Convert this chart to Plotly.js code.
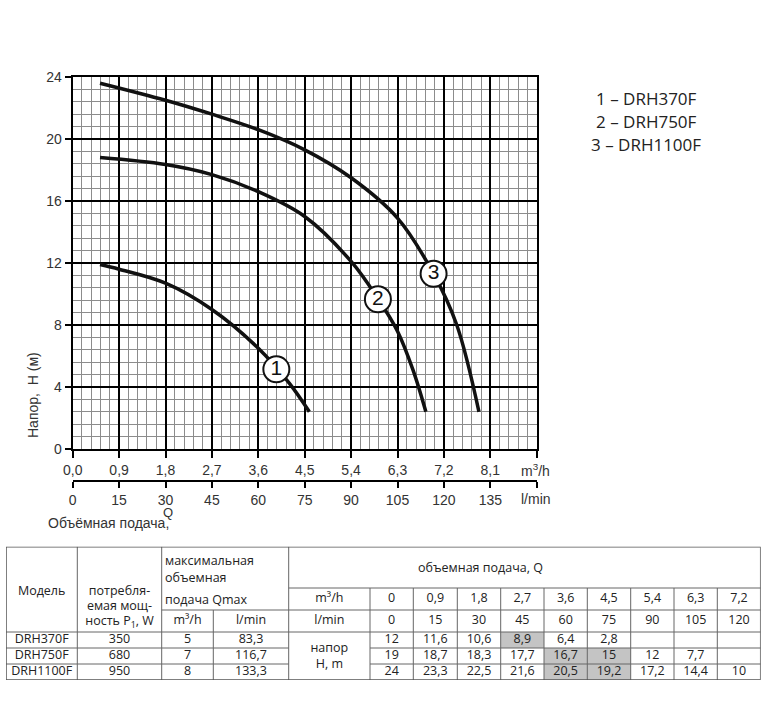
<!DOCTYPE html>
<html>
<head>
<meta charset="utf-8">
<script src="https://cdn.plot.ly/plotly-3.0.1.min.js"></script>
<style>html,body{margin:0;padding:0;background:#fff;}#chart{width:766px;height:702px;}</style>
</head>
<body>
<div id="chart"></div>
<script>
// ---------- data ----------
const curve1X = [0.53, 0.9, 1.8, 2.7, 3.6, 4.2, 4.59];
const curve1Y = [11.9, 11.6, 10.7, 9.0, 6.5, 4.25, 2.4];
const curve2X = [0.53, 1.8, 2.7, 3.6, 4.5, 5.4, 5.92, 6.3, 6.6, 6.85];
const curve2Y = [18.8, 18.35, 17.7, 16.6, 15.0, 12.1, 9.7, 7.6, 5.1, 2.4];
const curve3X = [0.53, 1.8, 2.7, 3.6, 4.5, 5.4, 6.3, 7.0, 7.45, 7.88];
const curve3Y = [23.6, 22.5, 21.6, 20.6, 19.3, 17.5, 14.9, 11.3, 8.0, 2.4];
const labelX = [3.95, 5.92, 7.0];
const labelY = [5.14, 9.66, 11.3];
const labelText = ['1', '2', '3'];

const m3hTicks = [0, 0.9, 1.8, 2.7, 3.6, 4.5, 5.4, 6.3, 7.2, 8.1];
const lpmTicks = [0, 15, 30, 45, 60, 75, 90, 105, 120, 135];
const headTicks = [0, 4, 8, 12, 16, 20, 24];
const legendLines = ['1 – DRH370F', '2 – DRH750F', '3 – DRH1100F'];

const models = ['DRH370F', 'DRH750F', 'DRH1100F'];
const power = [350, 680, 950];
const qmaxM3h = [5, 7, 8];
const qmaxLpm = [83.3, 116.7, 133.3];
const flowM3h = [0, 0.9, 1.8, 2.7, 3.6, 4.5, 5.4, 6.3, 7.2];
const flowLpm = [0, 15, 30, 45, 60, 75, 90, 105, 120];
const head370 = [12, 11.6, 10.6, 8.9, 6.4, 2.8, null, null, null];
const head750 = [19, 18.7, 18.3, 17.7, 16.7, 15, 12, 7.7, null];
const head1100 = [24, 23.3, 22.5, 21.6, 20.5, 19.2, 17.2, 14.4, 10];
const highlight370 = [3];
const highlight750 = [4, 5];
const highlight1100 = [4, 5];

// ---------- layout helpers ----------
const W = 766, H = 702;
const fx = p => p / W;
const fy = p => 1 - p / H;
const fmt = v => (v === null ? '' : String(v).replace('.', ','));
const fmt1 = v => v.toFixed(1).replace('.', ',');
const axisFont = {family: 'Liberation Sans, Arial, sans-serif', size: 14, color: '#333'};
const tableFont = {family: 'Open Sans, Noto Sans, sans-serif', size: 12.5, color: '#222'};

// table geometry (pixel units of the table axes)
const colX = [6, 77.3, 161.7, 213.3, 288.7, 370, 413.3, 457.3, 500.7, 544, 587.3, 630.7, 674, 717.3, 760.7];
const rowY = [546.7, 588, 610, 632, 648, 664, 680];
const cmid = k => (colX[k] + colX[k + 1]) / 2;
const rmid = k => (rowY[k] + rowY[k + 1]) / 2;

// ---------- traces ----------
const curveLine = {color: '#111', width: 3.5, shape: 'spline', smoothing: 1};
const traces = [
  {x: curve1X, y: curve1Y, mode: 'lines', line: curveLine, name: models[0], hoverinfo: 'skip'},
  {x: curve2X, y: curve2Y, mode: 'lines', line: curveLine, name: models[1], hoverinfo: 'skip'},
  {x: curve3X, y: curve3Y, mode: 'lines', line: curveLine, name: models[2], hoverinfo: 'skip'},
  {x: labelX, y: labelY, text: labelText, mode: 'markers+text', textposition: 'middle center',
   marker: {size: 26, color: '#fff', line: {color: '#111', width: 2}},
   textfont: {family: 'Liberation Sans, Arial, sans-serif', size: 21, color: '#111'}, hoverinfo: 'skip'},
  {x: lpmTicks, y: lpmTicks.map(() => null), xaxis: 'x2', yaxis: 'y', mode: 'markers', hoverinfo: 'skip'}
];

// table text
const tX = [], tY = [], tT = [];
const lX = [], lY = [], lT = [];
function put(x, y, t) { if (t !== '') { tX.push(x); tY.push(y); tT.push(t); } }
function putL(x, y, t) { lX.push(x); lY.push(y); lT.push(t); }
put(cmid(0), 592, 'Модель');
put(cmid(1), 592, 'потребля-');
put(cmid(1), 607, 'емая мощ-');
put(cmid(1), 622, 'ность P<sub>1</sub>, W');
putL(165, 561.5, 'максимальная');
putL(165, 579, 'объемная');
putL(165, 601, 'подача Qmax');
put(cmid(2), rmid(2), 'm³/h');
put(cmid(3), rmid(2), 'l/min');
putL(418, 569, 'объемная подача, Q');
put(cmid(4), rmid(1), 'm³/h');
put(cmid(4), rmid(2), 'l/min');
flowM3h.forEach((v, j) => put(cmid(5 + j), rmid(1), fmt(v)));
flowLpm.forEach((v, j) => put(cmid(5 + j), rmid(2), fmt(v)));
const heads = [head370, head750, head1100];
const highs = [highlight370, highlight750, highlight1100];
models.forEach((m, i) => {
  const y = rmid(3 + i);
  put(cmid(0), y, m);
  put(cmid(1), y, String(power[i]));
  put(cmid(2), y, String(qmaxM3h[i]));
  put(cmid(3), y, fmt(qmaxLpm[i]));
  heads[i].forEach((v, j) => put(cmid(5 + j), y, fmt(v)));
});
put(cmid(4), 649, 'напор');
put(cmid(4), 665, 'H, m');
traces.push({x: tX, y: tY, text: tT, mode: 'text', textposition: 'middle center', textfont: tableFont,
             xaxis: 'x3', yaxis: 'y3', hoverinfo: 'skip', cliponaxis: false});
traces.push({x: lX, y: lY, text: lT, mode: 'text', textposition: 'middle right', textfont: tableFont,
             xaxis: 'x3', yaxis: 'y3', hoverinfo: 'skip', cliponaxis: false});

// table shapes
const shapes = [];
const tl = {color: '#666', width: 1};
heads.forEach((row, i) => highs[i].forEach(j => shapes.push({
  type: 'rect', xref: 'x3', yref: 'y3', x0: colX[5 + j], x1: colX[6 + j], y0: rowY[3 + i], y1: rowY[4 + i],
  fillcolor: '#c4c4c4', line: {width: 0}, layer: 'below'})));
function ln(x0, y0, x1, y1) { shapes.push({type: 'line', xref: 'x3', yref: 'y3', x0, y0, x1, y1, line: tl}); }
ln(colX[1], rowY[0], colX[1], rowY[6]);
ln(colX[2], rowY[0], colX[2], rowY[6]);
ln(colX[3], rowY[2], colX[3], rowY[6]);
ln(colX[4], rowY[0], colX[4], rowY[6]);
for (let k = 5; k < 14; k++) ln(colX[k], rowY[1], colX[k], rowY[6]);
ln(colX[4], rowY[1], colX[14], rowY[1]);
ln(colX[2], rowY[2], colX[14], rowY[2]);
ln(colX[0], rowY[3], colX[14], rowY[3]);
[4, 5].forEach(r => { ln(colX[0], rowY[r], colX[4], rowY[r]); ln(colX[5], rowY[r], colX[14], rowY[r]); });
shapes.push({type: 'rect', xref: 'x3', yref: 'y3', x0: colX[0], x1: colX[14], y0: rowY[0], y1: rowY[6],
             line: {color: '#555', width: 1.5}});

// annotations
const annotations = [];
legendLines.forEach((t, i) => annotations.push({
  xref: 'paper', yref: 'paper', x: fx(646), y: fy(98 + i * 23.5), text: t, showarrow: false,
  xanchor: 'center', yanchor: 'middle', font: {family: 'Open Sans, sans-serif', size: 17, color: '#222'}}));
annotations.push({xref: 'paper', yref: 'paper', x: fx(33), y: fy(395), text: 'Напор,\u00a0\u00a0H\u00a0(м)',
  textangle: -90, showarrow: false, xanchor: 'center', yanchor: 'middle', font: axisFont});
annotations.push({xref: 'paper', yref: 'paper', x: fx(519), y: fy(470), text: 'm<sup>3</sup>/h',
  showarrow: false, xanchor: 'left', yanchor: 'middle', font: axisFont});
annotations.push({xref: 'paper', yref: 'paper', x: fx(519), y: fy(499), text: 'l/min',
  showarrow: false, xanchor: 'left', yanchor: 'middle', font: axisFont});
annotations.push({xref: 'paper', yref: 'paper', x: fx(168), y: fy(512), text: 'Q',
  showarrow: false, xanchor: 'center', yanchor: 'middle', font: {family: axisFont.family, size: 13, color: '#333'}});
annotations.push({xref: 'paper', yref: 'paper', x: fx(46), y: fy(523), text: 'Объёмная подача,',
  showarrow: false, xanchor: 'left', yanchor: 'middle', font: axisFont});

const minorGrid = {showgrid: true, gridcolor: '#8c8c8c', gridwidth: 1, ticks: ''};
const layout = {
  width: W, height: H,
  margin: {l: 0, r: 0, t: 0, b: 0},
  paper_bgcolor: '#fff', plot_bgcolor: '#fff',
  showlegend: false,
  xaxis: {
    domain: [fx(72.7), fx(536.7)], range: [0, 9], anchor: 'y',
    tickmode: 'array', tickvals: m3hTicks.concat([9]), ticktext: m3hTicks.map(fmt1).concat([' ']),
    ticks: 'outside', ticklen: 7, tickwidth: 2, tickcolor: '#000', tickfont: axisFont,
    showgrid: true, gridcolor: '#000', gridwidth: 2, zeroline: false,
    showline: true, linecolor: '#000', linewidth: 2, mirror: true,
    minor: Object.assign({tickmode: 'linear', tick0: 0, dtick: 0.18}, minorGrid)
  },
  yaxis: {
    domain: [fy(449), fy(77)], range: [0, 24], anchor: 'x',
    tickmode: 'array', tickvals: headTicks, ticktext: headTicks.map(String),
    ticks: 'outside', ticklen: 6, tickwidth: 2, tickcolor: '#000', tickfont: axisFont,
    showgrid: true, gridcolor: '#000', gridwidth: 2, zeroline: false,
    showline: true, linecolor: '#000', linewidth: 2, mirror: true,
    minor: Object.assign({tickmode: 'linear', tick0: 0, dtick: 0.8}, minorGrid)
  },
  xaxis2: {
    overlaying: 'x', anchor: 'free', position: fy(481), side: 'bottom',
    domain: [fx(72.7), fx(536.7)], range: [0, 150],
    tickmode: 'array', tickvals: lpmTicks.concat([150]), ticktext: lpmTicks.map(String).concat([' ']),
    ticks: 'outside', ticklen: 6, tickwidth: 2, tickcolor: '#000', tickfont: axisFont,
    showgrid: false, zeroline: false, showline: true, linecolor: '#000', linewidth: 2
  },
  xaxis3: {domain: [fx(colX[0]), fx(colX[14])], range: [colX[0], colX[14]], visible: false, anchor: 'y3', fixedrange: true},
  yaxis3: {domain: [fy(rowY[6]), fy(rowY[0])], range: [rowY[6], rowY[0]], visible: false, anchor: 'x3', fixedrange: true},
  shapes: shapes,
  annotations: annotations
};
Plotly.newPlot('chart', traces, layout, {staticPlot: true, displayModeBar: false});
</script>
</body>
</html>
